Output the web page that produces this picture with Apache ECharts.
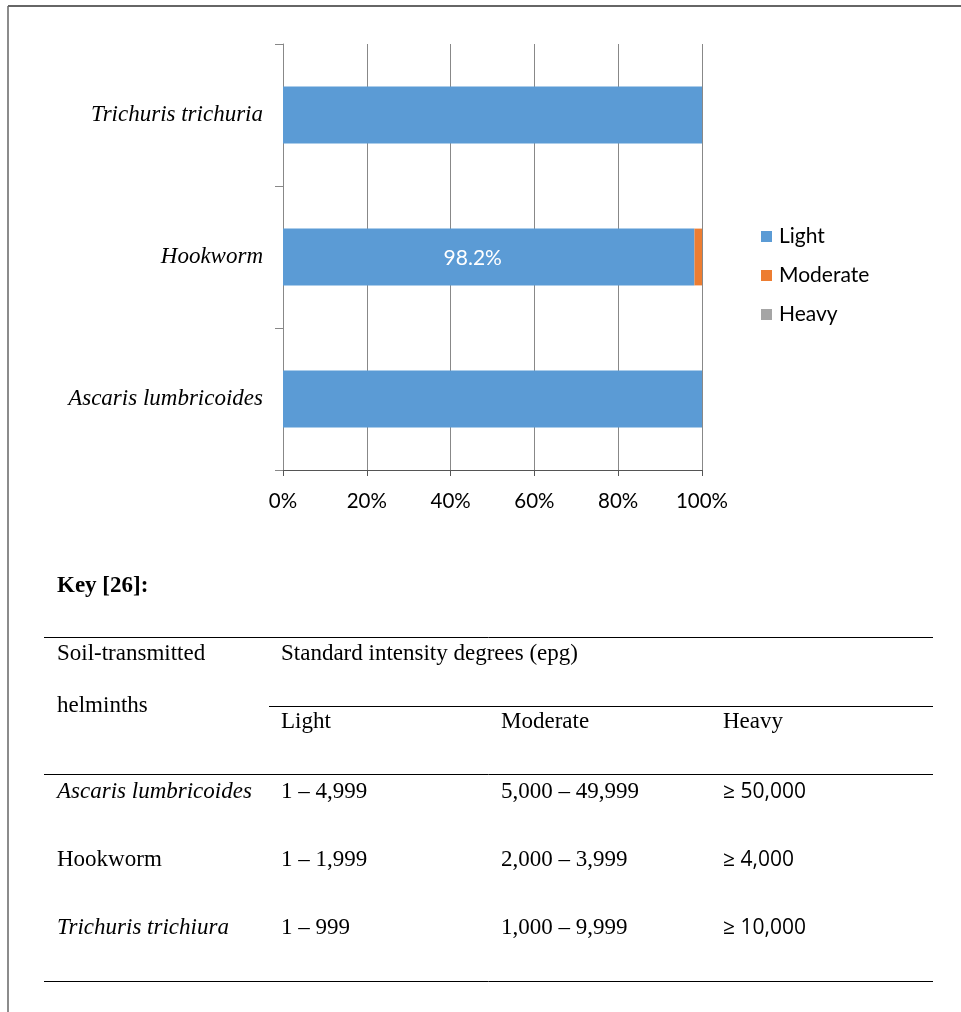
<!DOCTYPE html>
<html>
<head>
<meta charset="utf-8">
<script src="https://cdn.jsdelivr.net/npm/echarts@6/dist/echarts.min.js"></script>
<style>
html,body{margin:0;padding:0;background:#fff;}
#chart{width:961px;height:1012px;}
</style>
</head>
<body>
<div id="chart"></div>
<script>
// ---- Chart data ----
const categories = ['Ascaris lumbricoides', 'Hookworm', 'Trichuris trichuria'];
const seriesNames = ['Light', 'Moderate', 'Heavy'];
const lightValues = [100, 98.2, 100];
const moderateValues = [0, 1.8, 0];
const heavyValues = [0, 0, 0];
const xTickLabels = ['0%', '20%', '40%', '60%', '80%', '100%'];
const labelledPoint = 1; // Hookworm light share shown as label

// ---- Key table data ----
const keyTitle = 'Key [26]:';
const tableHeader1 = ['Soil-transmitted', 'helminths'];
const tableHeader2 = 'Standard intensity degrees (epg)';
const tableSubHeaders = ['Light', 'Moderate', 'Heavy'];
const tableRowNames = ['Ascaris lumbricoides', 'Hookworm', 'Trichuris trichiura'];
const tableRowItalic = [true, false, true];
const tableLight = ['1 – 4,999', '1 – 1,999', '1 – 999'];
const tableModerate = ['5,000 – 49,999', '2,000 – 3,999', '1,000 – 9,999'];
const tableHeavy = ['≥ 50,000', '≥ 4,000', '≥ 10,000'];

const colors = ['#5B9BD5', '#ED7D31', '#A5A5A5'];
const sansFont = 'Lato, "Open Sans", sans-serif';
const serifFont = '"Liberation Serif", "DejaVu Serif", serif';

const chart = echarts.init(document.getElementById('chart'), null, {renderer: 'canvas'});

const graphics = [];
// frame
graphics.push({type: 'line', shape: {x1: 8, y1: 6, x2: 8, y2: 1012}, style: {stroke: '#666', lineWidth: 1.5}});
graphics.push({type: 'line', shape: {x1: 8, y1: 6, x2: 961, y2: 6}, style: {stroke: '#666', lineWidth: 2}});

function txt(x, y, text, opts) {
  opts = opts || {};
  graphics.push({
    type: 'text', x: x, y: y,
    style: {
      text: text, fill: '#000',
      font: (opts.italic ? 'italic ' : '') + (opts.bold ? 'bold ' : '') + (opts.size || 23) + 'px ' + (opts.family || serifFont),
      textVerticalAlign: 'middle', textAlign: 'left'
    }
  });
}
function hline(x1, x2, y) {
  graphics.push({type: 'line', shape: {x1: x1, y1: y, x2: x2, y2: y}, style: {stroke: '#000', lineWidth: 1}});
}

txt(57, 586, keyTitle, {bold: true});
hline(44, 933, 637.5);
hline(269, 933, 706.5);
hline(44, 933, 774.5);
hline(44, 933, 981.5);
txt(57, 654, tableHeader1[0]);
txt(57, 706, tableHeader1[1]);
txt(281, 654, tableHeader2);
const colX = [281, 501, 723];
tableSubHeaders.forEach((h, i) => txt(colX[i], 722, h));
const rowY = [792, 860, 928];
tableRowNames.forEach((name, i) => {
  txt(57, rowY[i], name, {italic: tableRowItalic[i]});
  txt(colX[0], rowY[i], tableLight[i]);
  txt(colX[1], rowY[i], tableModerate[i]);
  txt(colX[2], rowY[i], tableHeavy[i], {family: '"Open Sans", sans-serif', size: 21});
});

const valueLists = [lightValues, moderateValues, heavyValues];

const series = seriesNames.map((name, si) => ({
  name: name,
  type: 'bar',
  stack: 'total',
  barWidth: '40%',
  itemStyle: {color: colors[si]},
  label: {show: false},
  data: valueLists[si].map((v, i) => (si === 0 && i === labelledPoint) ? {
    value: v,
    label: {
      show: true, position: 'inside', offset: [-16, 1],
      formatter: v + '%', color: '#fff', fontSize: 21, fontFamily: sansFont
    }
  } : v)
}));

chart.setOption({
  animation: false,
  backgroundColor: '#fff',
  grid: {left: 283, right: 259, top: 44, bottom: 542, containLabel: false},
  legend: {
    orient: 'vertical', left: 756, top: 221,
    itemWidth: 11, itemHeight: 11, itemGap: 18,
    icon: 'rect',
    data: seriesNames,
    textStyle: {fontSize: 21, fontFamily: sansFont, color: '#000', padding: [0, 0, 0, 2]}
  },
  xAxis: {
    type: 'value', min: 0, max: 100, interval: 20,
    axisLine: {show: true, lineStyle: {color: '#555', width: 1}},
    axisTick: {show: true, length: 6, lineStyle: {color: '#555'}},
    splitLine: {show: true, lineStyle: {color: '#888', width: 1}},
    axisLabel: {
      margin: 21, fontSize: 20.5, fontFamily: sansFont, color: '#000',
      formatter: (v) => xTickLabels[Math.round(v / 20)]
    }
  },
  yAxis: {
    type: 'category', data: categories,
    axisLine: {show: true, lineStyle: {color: '#888', width: 1}},
    axisTick: {show: true, length: 8, lineStyle: {color: '#888'}},
    axisLabel: {
      margin: 20, fontSize: 23, fontStyle: 'italic', fontFamily: serifFont, color: '#000',
      padding: [6, 0, 0, 0]
    }
  },
  series: series,
  graphic: graphics
});
</script>
</body>
</html>
